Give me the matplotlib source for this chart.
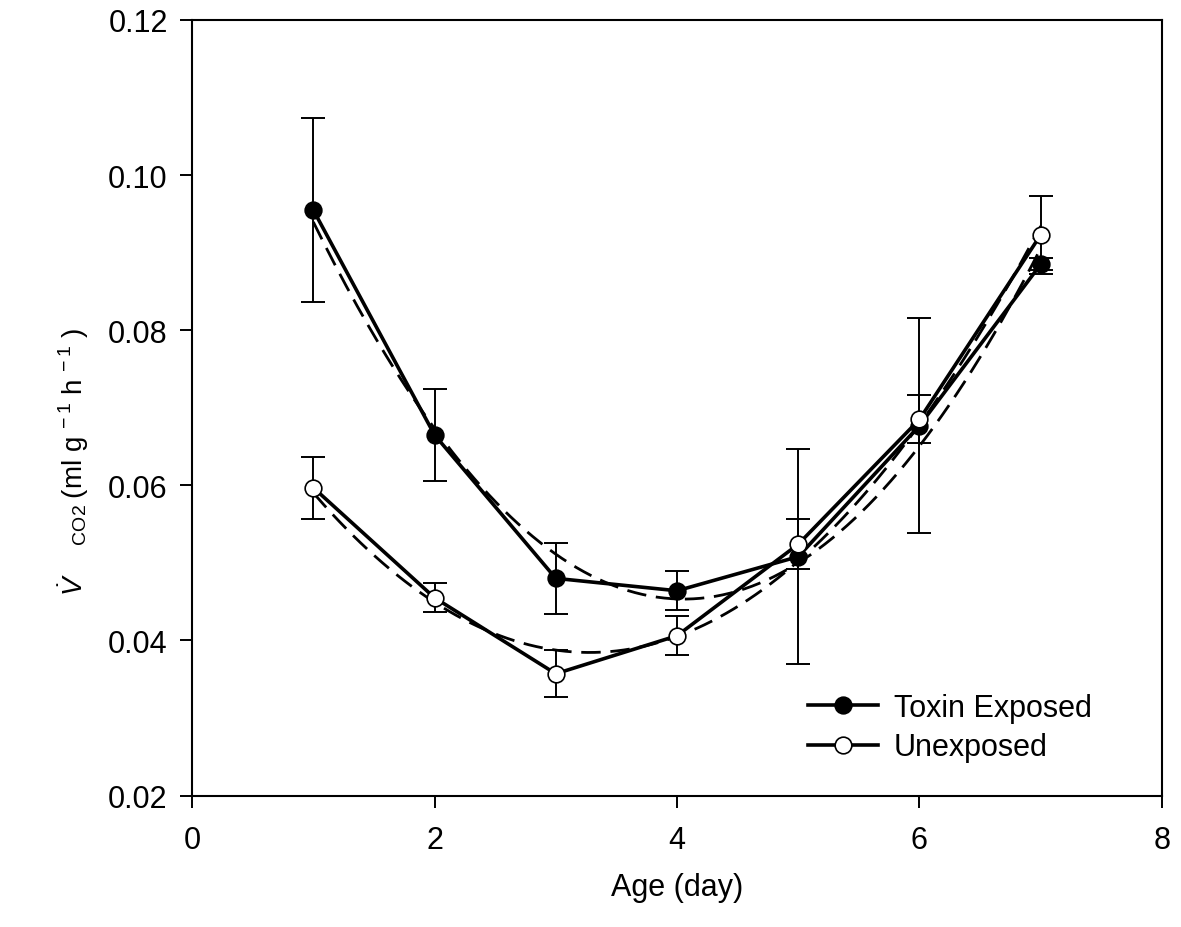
import numpy as np
import matplotlib
matplotlib.use("Agg")
import matplotlib.pyplot as plt
from matplotlib import font_manager
from matplotlib.ticker import FormatStrFormatter

plt.rcParams['font.family'] = ['Liberation Sans', 'DejaVu Sans']

# the axis title in the original is drawn in a condensed face
names = {f.name for f in font_manager.fontManager.ttflist}
label_font = 'Liberation Sans Narrow' if 'Liberation Sans Narrow' in names else 'Liberation Sans'
plt.rcParams['mathtext.fontset'] = 'custom'
plt.rcParams['mathtext.rm'] = label_font
plt.rcParams['mathtext.it'] = label_font + ':italic'

# data
days = [1, 2, 3, 4, 5, 6, 7]
toxin = [0.0955, 0.0665, 0.0480, 0.0464, 0.0508, 0.0677, 0.0885]
toxin_err = [0.0119, 0.0059, 0.0046, 0.0025, 0.0139, 0.0139, 0.0008]
unexposed = [0.0597, 0.0455, 0.0357, 0.0406, 0.0524, 0.0685, 0.0923]
unexposed_err = [0.0040, 0.0019, 0.0030, 0.0025, 0.0032, 0.0031, 0.0050]


def fit_curve(x, y, deg=2):
    """Polynomial regression line through the means."""
    coefs = np.polyfit(x, y, deg)
    xs = np.linspace(min(x), max(x), 200)
    return xs, np.polyval(coefs, xs)


fig = plt.figure(figsize=(11.81, 9.28), dpi=100)
ax = fig.add_axes([0.1626, 0.1417, 0.8213, 0.8357])

for vals, errs in [(toxin, toxin_err), (unexposed, unexposed_err)]:
    ax.errorbar(days, vals, yerr=errs, fmt='none', ecolor='black',
                elinewidth=1.4, capsize=8.5, capthick=1.4, zorder=2)

for vals in [toxin, unexposed]:
    xs, ys = fit_curve(days, vals)
    ax.plot(xs, ys, color='black', lw=2.0, ls=(0, (7, 3.5)), zorder=3)

ax.plot(days, toxin, color='black', lw=2.6, marker='o', ms=12,
        mfc='black', mec='black', mew=1.2, label='Toxin Exposed', zorder=4)
ax.plot(days, unexposed, color='black', lw=2.6, marker='o', ms=12,
        mfc='white', mec='black', mew=1.2, label='Unexposed', zorder=4)

ax.set_xlim(0, 8)
ax.set_ylim(0.02, 0.12)
ax.set_xticks([0, 2, 4, 6, 8])
ax.set_yticks([0.02, 0.04, 0.06, 0.08, 0.10, 0.12])
ax.yaxis.set_major_formatter(FormatStrFormatter('%.2f'))
ax.tick_params(direction='out', length=8.5, width=1.4, labelsize=22)
ax.tick_params(axis='x', pad=13)
ax.tick_params(axis='y', pad=9)
for s in ax.spines.values():
    s.set_linewidth(1.5)

ax.set_xlabel('Age (day)', fontsize=22, labelpad=12)
ax.set_ylabel(r'$\dot{V}\;\;\;\;\;{}_{\mathrm{CO2}}\;$(ml g$^{\;-1}$ h$^{\;-1}$ )', fontsize=20)
ax.yaxis.set_label_coords(-0.104, 0.432)

ax.legend(loc='lower right', bbox_to_anchor=(0.94, 0.027), frameon=False,
          fontsize=22, handlelength=2.3, labelspacing=0.3, handletextpad=0.5,
          borderaxespad=0)

fig.savefig('out.png', dpi=100)
